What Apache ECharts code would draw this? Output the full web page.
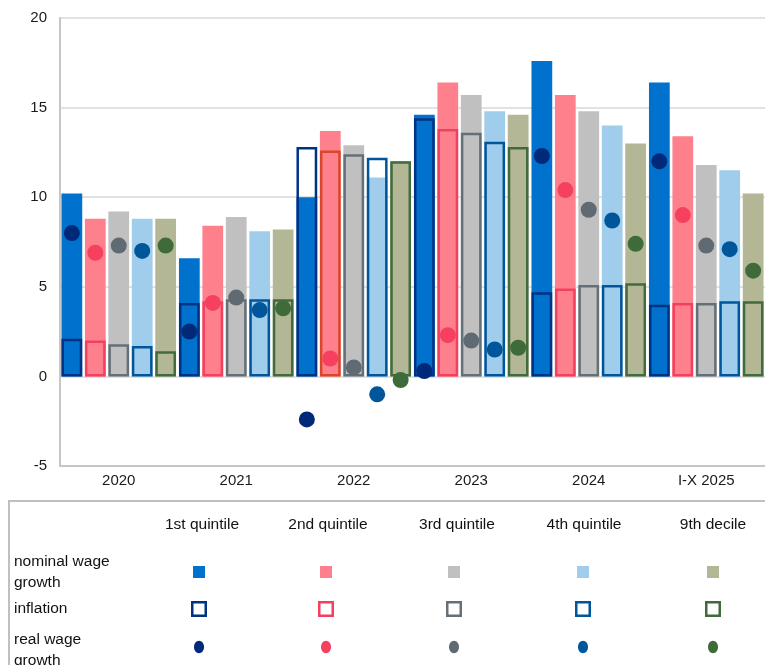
<!DOCTYPE html>
<html>
<head>
<meta charset="utf-8">
<title>Wage growth and inflation by income group</title>
<script src="https://cdn.jsdelivr.net/npm/echarts@6/dist/echarts.min.js"></script>
<style>
  html, body { margin: 0; padding: 0; background: #ffffff; }
  #chart { width: 765px; height: 665px; }
</style>
</head>
<body>
<div id="chart"></div>
<script>
// Periods on the category axis
const years = ['2020', '2021', '2022', '2023', '2024', 'I-X 2025'];
// Income groups (one bar / outline / dot per group in every period)
const groups = ['1st quintile', '2nd quintile', '3rd quintile', '4th quintile', '9th decile'];
// Row titles of the key table
const rowLabels = [['nominal wage', 'growth'], ['inflation'], ['real wage', 'growth']];
// Value axis ticks (%)
const yTicks = [-5, 0, 5, 10, 15, 20];

// Nominal wage growth, % y/y
const nominal1 = [10.2, 6.6, 10.0, 14.6, 17.6, 16.4];
const nominal2 = [8.8, 8.4, 13.7, 16.4, 15.7, 13.4];
const nominal3 = [9.2, 8.9, 12.9, 15.7, 14.8, 11.8];
const nominal4 = [8.8, 8.1, 11.1, 14.8, 14.0, 11.5];
const nominal5 = [8.8, 8.2, 12.0, 14.6, 13.0, 10.2];

// Group-specific inflation, % y/y
const inflation1 = [2.1, 4.1, 12.8, 14.4, 4.7, 4.0];
const inflation2 = [2.0, 4.2, 12.6, 13.8, 4.9, 4.1];
const inflation3 = [1.8, 4.3, 12.4, 13.6, 5.1, 4.1];
const inflation4 = [1.7, 4.3, 12.2, 13.1, 5.1, 4.2];
const inflation5 = [1.4, 4.3, 12.0, 12.8, 5.2, 4.2];

// Real wage growth, % y/y
const real1 = [8.0, 2.5, -2.4, 0.3, 12.3, 12.0];
const real2 = [6.9, 4.1, 1.0, 2.3, 10.4, 9.0];
const real3 = [7.3, 4.4, 0.5, 2.0, 9.3, 7.3];
const real4 = [7.0, 3.7, -1.0, 1.5, 8.7, 7.1];
const real5 = [7.3, 3.8, -0.2, 1.6, 7.4, 5.9];

const nominalSets = [nominal1, nominal2, nominal3, nominal4, nominal5];
const inflationSets = [inflation1, inflation2, inflation3, inflation4, inflation5];
const realSets = [real1, real2, real3, real4, real5];

// Palette per group
const nominalColors = ['#0072ce', '#ff808d', '#c0c0c0', '#a0cdeb', '#b3b795'];
const inflationColors = ['#003283', '#f43f5e', '#647078', '#00559b', '#416b3c'];
const realColors = ['#00297a', '#f5405f', '#5f6a72', '#00569b', '#3f6b3b'];

const FONT = '"Liberation Sans", Arial, sans-serif';
const BAR_GAP = '13%';
const CAT_GAP = '2.5%';

const series = [];

// Filled bars: nominal wage growth
nominalSets.forEach((d, i) => {
  series.push({
    name: groups[i] + ' nominal wage growth',
    type: 'bar',
    xAxisIndex: 0,
    data: d,
    barGap: BAR_GAP,
    barCategoryGap: CAT_GAP,
    itemStyle: { color: nominalColors[i] },
    z: 2
  });
});

// Hollow outlines: inflation, laid over the nominal bars on a twin category axis
inflationSets.forEach((d, i) => {
  series.push({
    name: groups[i] + ' inflation',
    type: 'bar',
    xAxisIndex: 1,
    data: d.map((v, k) => {
      // the 2nd quintile outline in 2022 is drawn in a warmer red
      if (i === 1 && k === 2) return { value: v, itemStyle: { borderColor: '#d9472b' } };
      return v;
    }),
    barGap: BAR_GAP,
    barCategoryGap: CAT_GAP,
    itemStyle: { color: 'rgba(0,0,0,0)', borderColor: inflationColors[i], borderWidth: 2.5 },
    z: 3
  });
});

// Dots: real wage growth, centred on the value at the end of an invisible pictorial bar
realSets.forEach((d, i) => {
  series.push({
    name: groups[i] + ' real wage growth',
    type: 'pictorialBar',
    xAxisIndex: 0,
    data: d.map(v => ({ value: v, symbolOffset: [0, v < 0 ? '50%' : '-50%'] })),
    symbol: 'circle',
    symbolSize: 16,
    symbolPosition: 'end',
    barGap: BAR_GAP,
    barCategoryGap: CAT_GAP,
    itemStyle: { color: realColors[i] },
    z: 5
  });
});

// Key table below the plot
const colX = [199, 326, 454, 583, 713];
const rowY = [572, 609, 647];
const graphics = [];

graphics.push({
  type: 'polyline',
  shape: { points: [[9, 672], [9, 501], [775, 501]] },
  style: { stroke: '#c0c0c0', lineWidth: 2, fill: null },
  silent: true
});

const headerX = [202, 328, 457, 584, 713];
groups.forEach((g, i) => {
  graphics.push({
    type: 'text', x: headerX[i], y: 525,
    style: { text: g, font: '15.5px ' + FONT, fill: '#111111', align: 'center', verticalAlign: 'middle' }
  });
});

const rowTextY = [[562, 583], [609], [640, 661]];
rowLabels.forEach((lines, r) => {
  lines.forEach((t, k) => {
    graphics.push({
      type: 'text', x: 14, y: rowTextY[r][k],
      style: { text: t, font: '15.5px ' + FONT, fill: '#111111', align: 'left', verticalAlign: 'middle' }
    });
  });
});

groups.forEach((g, i) => {
  const cx = colX[i];
  graphics.push({
    type: 'rect',
    shape: { x: cx - 6, y: rowY[0] - 6, width: 12, height: 12 },
    style: { fill: nominalColors[i] }
  });
  graphics.push({
    type: 'rect',
    shape: { x: cx - 6.75, y: rowY[1] - 6.75, width: 13.5, height: 13.5 },
    style: { fill: '#ffffff', stroke: inflationColors[i], lineWidth: 2.5 }
  });
  graphics.push({
    type: 'ellipse',
    shape: { cx: cx, cy: rowY[2], rx: 5, ry: 6.2 },
    style: { fill: realColors[i] }
  });
});

const chart = echarts.init(document.getElementById('chart'), null, { renderer: 'canvas' });
chart.setOption({
  animation: false,
  backgroundColor: '#ffffff',
  grid: { left: 60, top: 18, width: 711, height: 448, containLabel: false },
  xAxis: [
    {
      type: 'category',
      data: years,
      boundaryGap: true,
      axisTick: { show: false },
      axisLine: { show: true, onZero: false, lineStyle: { color: '#c6c6c6', width: 2 } },
      axisLabel: { color: '#1a1a1a', fontSize: 15, fontFamily: FONT, margin: 7 },
      splitLine: { show: false }
    },
    {
      type: 'category',
      data: years,
      boundaryGap: true,
      show: false
    }
  ],
  yAxis: {
    type: 'value',
    min: yTicks[0],
    max: yTicks[yTicks.length - 1],
    interval: yTicks[1] - yTicks[0],
    axisTick: { show: false },
    axisLine: { show: true, lineStyle: { color: '#c6c6c6', width: 2 } },
    axisLabel: { color: '#1a1a1a', fontSize: 15, fontFamily: FONT, margin: 13 },
    splitLine: { show: true, lineStyle: { color: '#d9d9d9', width: 1.5 } }
  },
  series: series,
  graphic: graphics
});
</script>
</body>
</html>
